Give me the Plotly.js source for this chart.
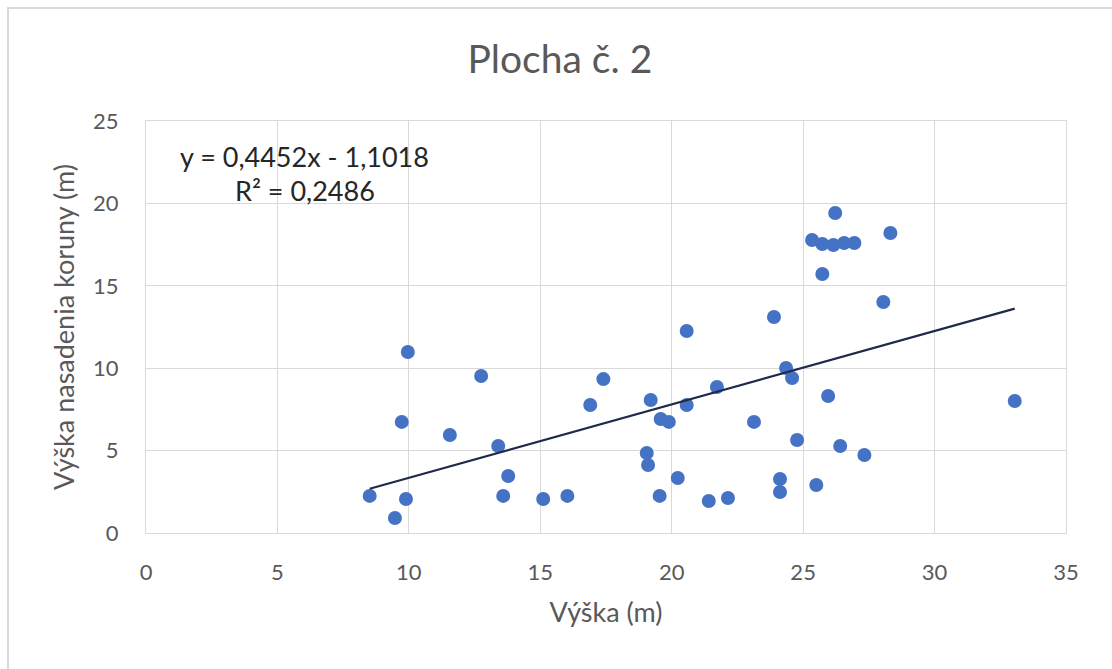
<!DOCTYPE html>
<html>
<head>
<meta charset="utf-8">
<script src="https://cdn.plot.ly/plotly-3.0.1.min.js"></script>
<style>
  html, body { margin: 0; padding: 0; width: 1112px; height: 669px; overflow: hidden; background: #fff; }
  #frame { position: absolute; left: 7px; top: 7px; width: 1300px; height: 800px; border-left: 2px solid #d9d9d9; border-top: 2px solid #d9d9d9; box-sizing: border-box; }
  #chart { position: absolute; left: 0; top: 0; width: 1112px; height: 669px; }
</style>
</head>
<body>
<div id="frame"></div>
<div id="chart"></div>
<script>
// Výška (m)
const heightX = [8.51, 9.47, 9.73, 9.89, 9.96, 11.56, 12.75, 13.40, 13.59, 13.78,
  15.11, 16.03, 16.90, 17.40, 19.05, 19.10, 19.20, 19.54, 19.58, 19.89,
  20.23, 20.57, 20.57, 21.41, 21.72, 22.14, 23.13, 23.89, 24.12, 24.12,
  24.35, 24.58, 24.77, 25.34, 25.50, 25.73, 25.73, 25.95, 26.15, 26.22,
  26.41, 26.56, 26.95, 27.33, 28.05, 28.32, 33.05];
// Výška nasadenia koruny (m)
const crownY = [2.25, 0.91, 6.74, 2.06, 10.98, 5.95, 9.53, 5.28, 2.25, 3.46,
  2.06, 2.25, 7.77, 9.34, 4.85, 4.13, 8.07, 2.25, 6.92, 6.74,
  3.34, 7.77, 12.26, 1.94, 8.86, 2.12, 6.74, 13.11, 3.28, 2.49,
  10.01, 9.40, 5.64, 17.78, 2.91, 17.54, 15.72, 8.31, 17.48, 19.42,
  5.28, 17.60, 17.60, 4.73, 14.02, 18.20, 8.01];

const trendSlope = 0.4452;
const trendIntercept = -1.1018;
const equationText = ["y = 0,4452x - 1,1018", "R² = 0,2486"];
const xTicks = [0, 5, 10, 15, 20, 25, 30, 35];
const yTicks = [0, 5, 10, 15, 20, 25];

const xMin = Math.min(...heightX), xMax = Math.max(...heightX);
const trendX = [xMin, xMax];
const trendY = trendX.map(v => trendSlope * v + trendIntercept);

const FONT = "Lato, 'Open Sans', sans-serif";

const data = [
  {
    x: heightX, y: crownY, type: 'scatter', mode: 'markers',
    marker: { color: '#4472c4', size: 14 },
    hoverinfo: 'x+y', showlegend: false
  },
  {
    x: trendX, y: trendY, type: 'scatter', mode: 'lines',
    line: { color: '#1f2a4a', width: 2.2 },
    hoverinfo: 'skip', showlegend: false
  }
];

const layout = {
  width: 1112, height: 669,
  margin: { l: 146, r: 46, t: 121, b: 136 },
  paper_bgcolor: 'rgba(0,0,0,0)',
  plot_bgcolor: '#ffffff',
  font: { family: FONT, color: '#595959' },
  title: {
    text: 'Plocha č. 2',
    font: { family: FONT, size: 39, color: '#595959' },
    x: 0.5035, xanchor: 'center', y: 0.912, yanchor: 'middle'
  },
  xaxis: {
    range: [0, 35], tickvals: xTicks, ticktext: xTicks.map(String),
    showgrid: true, gridcolor: '#d9d9d9', gridwidth: 1,
    zeroline: false, showline: true, mirror: true, linecolor: '#d9d9d9', linewidth: 1,
    ticks: 'outside', ticklen: 20, tickcolor: 'rgba(0,0,0,0)',
    tickfont: { family: FONT, size: 22, color: '#595959' },
    title: { text: 'Výška (m)', font: { family: FONT, size: 27, color: '#595959' }, standoff: 18 },
    fixedrange: true
  },
  yaxis: {
    range: [0, 25], tickvals: yTicks, ticktext: yTicks.map(String),
    showgrid: true, gridcolor: '#d9d9d9', gridwidth: 1,
    zeroline: false, showline: true, mirror: true, linecolor: '#d9d9d9', linewidth: 1,
    ticks: 'outside', ticklen: 22, tickcolor: 'rgba(0,0,0,0)',
    tickfont: { family: FONT, size: 22, color: '#595959' },
    title: { text: 'Výška nasadenia koruny (m)', font: { family: FONT, size: 27, color: '#595959' }, standoff: 10 },
    fixedrange: true
  },
  annotations: [
    { xref: 'paper', yref: 'paper', x: 0.1728, y: 0.915, xanchor: 'center', yanchor: 'middle',
      text: equationText[0], showarrow: false, font: { family: FONT, size: 27, color: '#262626' } },
    { xref: 'paper', yref: 'paper', x: 0.1728, y: 0.8325, xanchor: 'center', yanchor: 'middle',
      text: equationText[1], showarrow: false, font: { family: FONT, size: 27, color: '#262626' } }
  ]
};

Plotly.newPlot('chart', data, layout, { displayModeBar: false, staticPlot: true });
</script>
</body>
</html>
